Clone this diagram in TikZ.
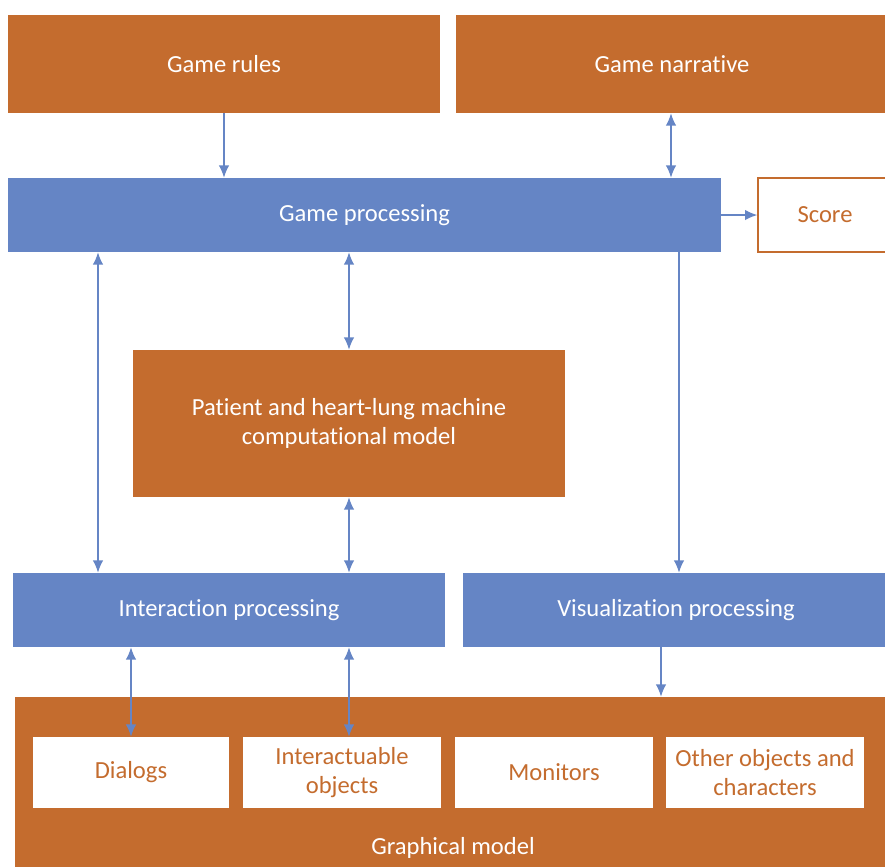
\documentclass[tikz,border=0pt]{standalone}
\usepackage{fontspec}
\setmainfont[Ligatures=NoCommon]{Carlito}
\usetikzlibrary{calc,positioning,arrows.meta}

\definecolor{rust}{HTML}{C46C2E}
\definecolor{steel}{HTML}{6585C5}

\begin{document}
\begin{tikzpicture}[x=0.02cm, y=-0.02cm,
                       box/.style={draw=none, minimum height=#1*0.02cm, align=center,
                                   font=\fontsize{14}{16.5}\selectfont, inner sep=0pt},
                       orange/.style={box=98, fill=rust, text=white},
                       blue/.style={box=74, fill=steel, text=white},
                       item/.style={box=71, fill=white, text=rust, minimum width=198*0.02cm},
                       arrow/.style={-{Latex[length=7pt,width=6pt]}, steel, line width=0.8pt},
                       dbl/.style={{Latex[length=7pt,width=6pt]}-{Latex[length=7pt,width=6pt]}, steel, line width=0.8pt}]
        \useasboundingbox (0,0) rectangle (885,867);
        % Top row
        \node[orange, minimum width=432*0.02cm] (rules) at (224,64) {Game rules};
        \node[orange, minimum width=432*0.02cm] (narrative) at (672,64) {Game narrative};
        % Game processing
        \node[blue, minimum width=713*0.02cm] (gameproc) at (364.5,215) {Game processing};
        \node[box=74, draw=rust, line width=0.8pt, text=rust, minimum width=134*0.02cm] (score) at (825,215) {Score};
        % Computational model
        \node[box=147, fill=rust, text=white, minimum width=432*0.02cm] (patient) at (349,423.5)
            {Patient and heart-lung machine\\computational model};
        % Processing row
        \node[blue, minimum width=432*0.02cm] (interaction) at (229,610) {Interaction processing};
        \node[blue, minimum width=426*0.02cm] (visual) at (676,610) {Visualization processing};
        % Graphical model
        \node[box=170, fill=rust, minimum width=875*0.02cm] (graphical) at (452.5,782) {};
        \node[font=\fontsize{14}{16.5}\selectfont, text=white] (gmlabel) at (453,848) {Graphical model};
        \node[item, minimum width=196*0.02cm] (dialogs) at (131,772.5) {Dialogs};
        \node[item] (interactuable) at (342,772.5) {Interactuable\\objects};
        \node[item] (monitors) at (554,772.5) {Monitors};
        \node[item] (others) at (765,772.5) {Other objects and\\characters};
        % Arrows
        \draw[arrow] (rules.south) -- (rules.south |- gameproc.north);
        \draw[dbl] (narrative.south -| 671,0) -- (gameproc.north -| 671,0);
        \draw[arrow] (gameproc.east) -- (score.west);
        \draw[dbl] (gameproc.south -| 98,0) -- (interaction.north -| 98,0);
        \draw[dbl] (gameproc.south -| patient) -- (patient.north);
        \draw[arrow] (gameproc.south -| 679,0) -- (visual.north -| 679,0);
        \draw[dbl] (patient.south) -- (interaction.north -| patient);
        \draw[dbl] (interaction.south -| dialogs) -- (dialogs.north);
        \draw[dbl] (interaction.south -| patient) -- (interactuable.north -| patient);
        \draw[arrow] (visual.south -| 661,0) -- (graphical.north -| 661,0);
    \end{tikzpicture}
\end{document}
